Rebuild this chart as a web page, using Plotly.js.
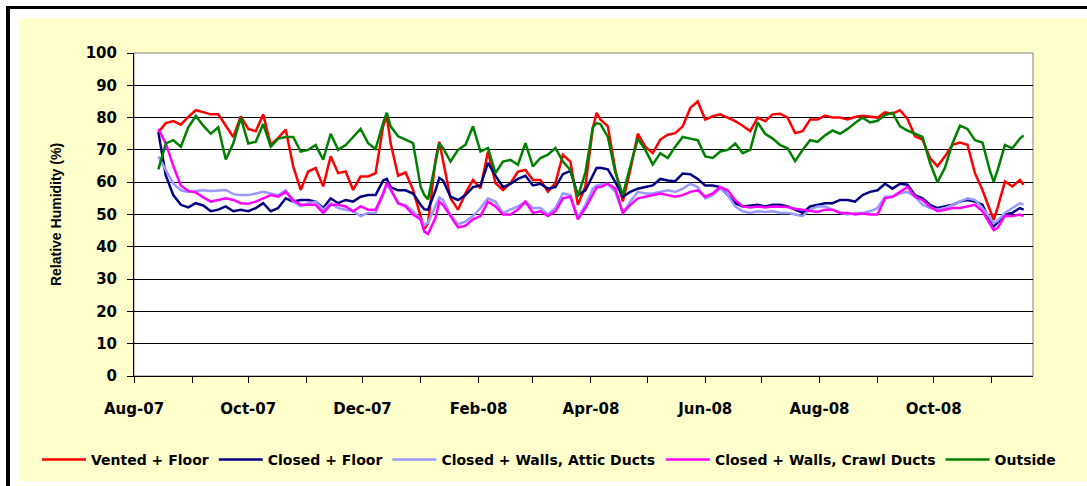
<!DOCTYPE html>
<html><head><meta charset="utf-8">
<script src="https://cdn.plot.ly/plotly-3.0.1.min.js"></script>
<style>
html,body{margin:0;padding:0;background:#fff;width:1087px;height:486px;overflow:hidden;}
#bgBorder{position:absolute;left:6px;top:6px;width:1081px;height:480px;border-left:4px solid #000;border-top:3px solid #000;box-sizing:border-box;}
#bgYellow{position:absolute;left:19px;top:18px;width:1068px;height:463px;background:#FFFFCC;}
#chart{position:absolute;left:0;top:0;width:1087px;height:486px;}
</style></head>
<body>
<div id="bgBorder"></div>
<div id="bgYellow"></div>
<div id="chart"></div>
<script>
const dates = [
"2007-08-14","2007-08-18","2007-08-22","2007-08-26","2007-08-30",
"2007-09-03","2007-09-07","2007-09-11","2007-09-15","2007-09-19","2007-09-23","2007-09-27",
"2007-10-01","2007-10-05","2007-10-09","2007-10-13","2007-10-17","2007-10-21","2007-10-25","2007-10-29",
"2007-11-02","2007-11-06","2007-11-10","2007-11-14","2007-11-18","2007-11-22","2007-11-26","2007-11-30",
"2007-12-04","2007-12-08","2007-12-12","2007-12-14","2007-12-16","2007-12-20","2007-12-24","2007-12-28",
"2008-01-01","2008-01-03","2008-01-05","2008-01-09","2008-01-11","2008-01-13","2008-01-17","2008-01-21","2008-01-25","2008-01-29",
"2008-02-02","2008-02-06","2008-02-10","2008-02-14","2008-02-18","2008-02-22","2008-02-26",
"2008-03-01","2008-03-05","2008-03-09","2008-03-13","2008-03-17","2008-03-21","2008-03-25","2008-03-29",
"2008-04-02","2008-04-04","2008-04-06","2008-04-10","2008-04-14","2008-04-18","2008-04-22","2008-04-26","2008-04-30",
"2008-05-04","2008-05-08","2008-05-12","2008-05-16","2008-05-20","2008-05-24","2008-05-28",
"2008-06-01","2008-06-05","2008-06-09","2008-06-13","2008-06-17","2008-06-21","2008-06-25","2008-06-29",
"2008-07-03","2008-07-07","2008-07-11","2008-07-15","2008-07-19","2008-07-23","2008-07-27","2008-07-31",
"2008-08-04","2008-08-08","2008-08-12","2008-08-16","2008-08-20","2008-08-24","2008-08-28",
"2008-09-01","2008-09-05","2008-09-09","2008-09-13","2008-09-17","2008-09-21","2008-09-25","2008-09-29",
"2008-10-03","2008-10-07","2008-10-11","2008-10-15","2008-10-19","2008-10-23","2008-10-27","2008-10-31",
"2008-11-02","2008-11-04","2008-11-08","2008-11-12","2008-11-16","2008-11-18"
];

const ventedFloor = [
75.5, 78.3, 78.9, 77.8, 80.2,
82.3, 81.7, 81, 81, 77.3, 74, 80.4,
76.5, 75.8, 81, 71.6, 73.7, 76.3, 64.9, 57.6,
63.3, 64.4, 58.7, 68, 62.8, 63.3, 57.6, 61.8,
61.8, 62.8, 77.3, 80.4, 72.1, 62, 63, 57.6,
49.8, 45.5, 47.3, 67, 72.5, 66.4, 55, 51.5, 56.6, 60.7,
58.1, 69.5, 59.7, 57.6, 59.7, 63.3, 63.8,
60.7, 60.7, 57.1, 59.7, 68.5, 66.4, 53, 58.7,
76.8, 81.5, 79.4, 77.3, 63.8, 54, 63.8, 75, 71,
69, 73.2, 74.7, 75.2, 77.3, 83, 85,
79.4, 80.4, 81, 80, 78.9, 77.5, 75.8, 80,
78.9, 81, 81.2, 80, 75.2, 75.8, 79.4, 79.4,
80.6, 80, 80, 79.4, 80.2, 80.6, 80.4,
80, 81.6, 81.2, 82.3, 79.6, 74.2, 73.2, 67.5,
64.9, 68, 71.6, 72.3, 71.6, 62.8, 57.6, 51.4,
48.3, 51.9, 60.2, 58.7, 60.7, 59.2
];

const closedFloor = [
75.5, 62, 56, 53, 52.2,
53.5, 52.8, 51, 51.5, 52.5, 51, 51.5,
51, 52, 53.5, 51, 52, 55, 54, 54.5,
54.5, 54, 52, 55, 53.5, 54.5, 54, 55.5,
56, 56, 60.5, 61, 58.5, 57.5, 57.5, 56.5,
53, 51.6, 51.5, 57.5, 61.3, 60.5, 55.5, 54.5, 56, 58.5,
59, 66, 62, 58.5, 59.5, 61, 62,
59, 59.5, 58, 58.5, 62.5, 63.5, 56, 57.5,
62, 64.4, 64.5, 64, 60, 55.5, 57, 58, 58.5,
59, 61, 60.5, 60.3, 62.7, 62.5, 61,
59, 59, 58.5, 56, 53.5, 52.5, 52.7, 53,
52.5, 53, 53, 52.5, 51.5, 50.5, 52.5, 53,
53.5, 53.5, 54.5, 54.5, 54, 56, 57,
57.5, 59.5, 58, 59.5, 59.2, 56, 55, 53,
52, 52.5, 53, 54, 54.5, 54, 53, 48,
46.3, 47.5, 50, 50.5, 52, 51.5
];

const closedWallsAttic = [
68, 63.5, 59.5, 57.5, 57,
57.3, 57.5, 57.3, 57.5, 57.6, 56.3, 56,
56, 56.5, 57, 56.5, 56, 57.5, 54, 52.5,
53.5, 54, 51.5, 53.5, 52, 51.5, 51, 49.5,
50.5, 50.5, 56, 59.5, 57.5, 53.5, 53, 51,
48.5, 46.7, 47.5, 53, 55.3, 54.5, 50, 47, 47.8, 49.5,
52, 55, 54, 50.5, 51.5, 52.5, 54,
52, 52, 50, 52, 56.5, 56, 49, 53,
58, 59, 59.3, 59.5, 57, 50.5, 54, 57, 56.5,
56.5, 57, 57.5, 57, 58, 59.5, 58.5,
55, 56, 58, 56, 52.5, 51, 50.5, 51,
50.8, 51, 50.5, 50.5, 50, 49.5, 51.5, 52.5,
52.5, 51.5, 50.5, 50, 50.5, 50.5, 51,
52, 55.5, 55.5, 56.5, 57, 55.5, 53, 52,
51.5, 52, 53, 54, 55, 54.5, 52, 49,
47.3, 48, 50.5, 52, 53.5, 53
];

const closedWallsCrawl = [
76.5, 72, 65, 59, 57.3,
56.8, 55.3, 54, 54.5, 55, 54.5, 53.5,
53.3, 54, 55, 56, 55.5, 57, 54.5, 53,
53, 53, 50.5, 53, 53, 52.5, 51, 52.5,
51.5, 51.5, 56.5, 59.8, 58, 53.5, 52.5, 50,
48.5, 44.7, 44, 49, 54, 53, 49.5, 46, 46.5, 48.5,
49.5, 54, 52.5, 50, 50, 51.5, 54,
50.5, 51, 49.5, 51, 55, 55.5, 48.5, 52,
56.5, 58.4, 58.5, 59.5, 58, 50.5, 53, 55, 55.5,
56, 56.5, 56, 55.5, 56, 57, 57.5,
55.5, 56.5, 58.5, 57.5, 54.5, 52.5, 52.2, 52.5,
52.2, 52.5, 52.5, 52.3, 51.8, 51.5, 51, 50.8,
51.5, 51.5, 50.5, 50.5, 50, 50.3, 50,
50, 55, 55.5, 57, 58.5, 55.5, 54.5, 52.5,
51, 51.5, 52, 52, 52.5, 53, 51, 47,
45.2, 45.8, 49.5, 49.5, 50, 49.5
];

const outside = [
64, 72, 73, 71, 77,
80.5, 77.5, 75, 77, 67, 72, 80,
72, 72.5, 78, 71, 73.5, 74, 74, 69.5,
70, 71.5, 67, 75, 70, 71.5, 74, 76.5,
72.1, 70.3, 78.3, 81.5, 77.3, 74.2, 73.2, 72.1,
58.7, 56, 54.7, 65.9, 72, 70.6, 66.4, 70, 71.6, 77.3,
69.5, 70.6, 62.8, 66.4, 66.9, 65.4, 72.1,
64.9, 67.5, 68.5, 70.6, 66.4, 63.8, 55.5, 63,
77, 78.3, 78, 74, 63, 56, 65, 73.5, 70,
65.5, 69, 67.5, 71, 74, 73.5, 73,
68, 67.5, 69.5, 70, 72, 69, 70, 78.5,
75, 73.5, 71.5, 70.5, 66.5, 70, 73, 72.5,
74.5, 76, 75, 76.5, 78.3, 80, 78.5,
79, 80.8, 81.5, 77.3, 76, 75, 74, 66,
60, 64.5, 72, 77.5, 76.5, 73, 72.3, 63.5,
60.2, 63.5, 71.5, 70.5, 73.5, 74.5
];

const seriesNames = ["Vented + Floor", "Closed + Floor", "Closed + Walls, Attic Ducts", "Closed + Walls, Crawl Ducts", "Outside"];
const seriesValues = [ventedFloor, closedFloor, closedWallsAttic, closedWallsCrawl, outside];
const seriesColors = ["#FF0000", "#000080", "#9999FF", "#FF00FF", "#008000"];
const seriesLegend = ["legend", "legend", "legend", "legend2", "legend2"];

const traces = seriesNames.map((n, i) => ({
  type: "scatter", mode: "lines", name: n,
  x: dates, y: seriesValues[i],
  line: {color: seriesColors[i], width: 2.5},
  legend: seriesLegend[i]
}));

const tickFont = {family: "DejaVu Sans", size: 15, color: "#000", weight: "bold"};
const legendFont = {family: "DejaVu Sans", size: 14, color: "#000", weight: "bold"};

const layout = {
  width: 1087, height: 486,
  margin: {l: 134, r: 54, t: 53, b: 110},
  paper_bgcolor: "rgba(0,0,0,0)",
  plot_bgcolor: "#FFFFFF",
  showlegend: true,
  xaxis: {
    type: "date",
    range: ["2007-08-01", "2008-11-23"],
    tick0: "2007-08-01", dtick: "M2", tickformat: "%b-%y",
    ticks: "outside", ticklen: 6, tickcolor: "#000", tickwidth: 1,
    showgrid: false, zeroline: false,
    showline: true, linecolor: "#000", linewidth: 1,
    tickfont: tickFont, ticklabelstandoff: 13,
    minor: {dtick: "M1", ticks: "outside", ticklen: 6, tickcolor: "#000", showgrid: false}
  },
  yaxis: {
    range: [0, 100], dtick: 10, tick0: 0,
    ticks: "outside", ticklen: 6, tickcolor: "#000",
    showgrid: true, gridcolor: "#000", gridwidth: 1,
    zeroline: false, showline: true, linecolor: "#000", linewidth: 1,
    tickfont: tickFont, ticklabelstandoff: 7,
    title: {text: "Relative Humidity (%)", font: {family: "Liberation Sans", size: 14, color: "#000", weight: "bold"}, standoff: 20}
  },
  legend: {
    orientation: "h", xref: "container", yref: "container",
    x: 0.034, xanchor: "left", y: 0.0535, yanchor: "middle",
    bgcolor: "rgba(0,0,0,0)", itemwidth: 44,
    font: legendFont, traceorder: "normal"
  },
  legend2: {
    orientation: "h", xref: "container", yref: "container",
    x: 0.608, xanchor: "left", y: 0.0535, yanchor: "middle",
    bgcolor: "rgba(0,0,0,0)", itemwidth: 44,
    font: legendFont, traceorder: "normal"
  },
  shapes: [{type: "rect", xref: "paper", yref: "paper", x0: 0, x1: 1, y0: 0, y1: 1,
            line: {color: "#808080", width: 1}, layer: "below"}]
};

Plotly.newPlot("chart", traces, layout, {staticPlot: true, displayModeBar: false});
</script>
</body></html>
